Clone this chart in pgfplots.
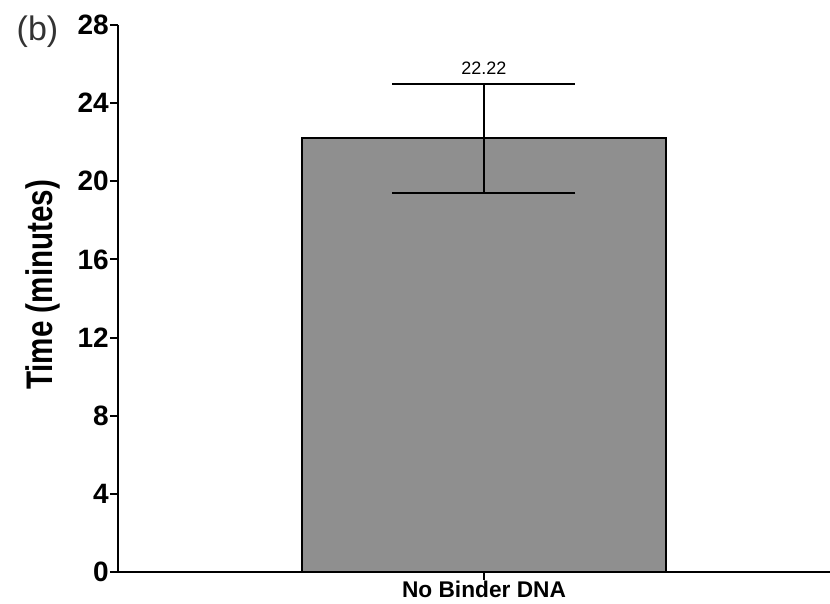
\documentclass[border=0pt]{standalone}
\usepackage{fontspec}
\setmainfont{Liberation Sans}
\usepackage{graphicx}
\usepackage{pgfplots}
\pgfplotsset{compat=1.18}
\definecolor{barfill}{HTML}{8F8F8F}
\definecolor{labgray}{HTML}{333333}
\begin{document}
\begin{tikzpicture}
\useasboundingbox (-118pt,-31pt) rectangle (712pt,572pt);
\begin{axis}[
  at={(0,0)}, anchor=south west,
  scale only axis,
  width=712pt, height=547pt,
  xmin=-1.008, xmax=0.953,
  ymin=0, ymax=28,
  ytick={0,4,8,12,16,20,24,28},
  xtick={0},
  xticklabels={No Binder DNA},
  axis x line*=bottom, axis y line*=left,
  axis line style={-, line width=2pt, black},
  tick align=outside,
  major tick length=8pt,
  tick style={line width=2pt, black},
  /pgf/number format/assume math mode=true,
  yticklabel style={font=\fontsize{28}{28}\selectfont\bfseries, inner sep=1pt},
  xticklabel style={font=\fontsize{22.7}{22.7}\selectfont\bfseries, inner sep=1pt},
  ylabel={\scalebox{0.8}[1]{\fontsize{37}{37}\selectfont\bfseries Time (minutes)}},
  every axis y label/.style={at={(axis description cs:-0.1053,0.525)}, anchor=center, rotate=90},
  clip=false,
]
\addplot[ybar, bar width=1, fill=barfill, draw=black, line width=2pt,
  error bars/.cd, y dir=both, y explicit,
  error bar style={line width=1.8pt, black},
  error mark options={rotate=90, line width=1.8pt, black, mark size=91.5pt}]
  coordinates {(0,22.22) += (0,2.78) -= (0,2.82)};
\node[font=\fontsize{18}{18}\selectfont, anchor=base, inner sep=0pt, yshift=9pt] at (axis cs:0,25.0) {22.22};
\end{axis}
\node[font=\fontsize{34}{34}\selectfont, text=labgray, anchor=center] at (-80.5pt,540pt) {(b)};
\end{tikzpicture}
\end{document}
